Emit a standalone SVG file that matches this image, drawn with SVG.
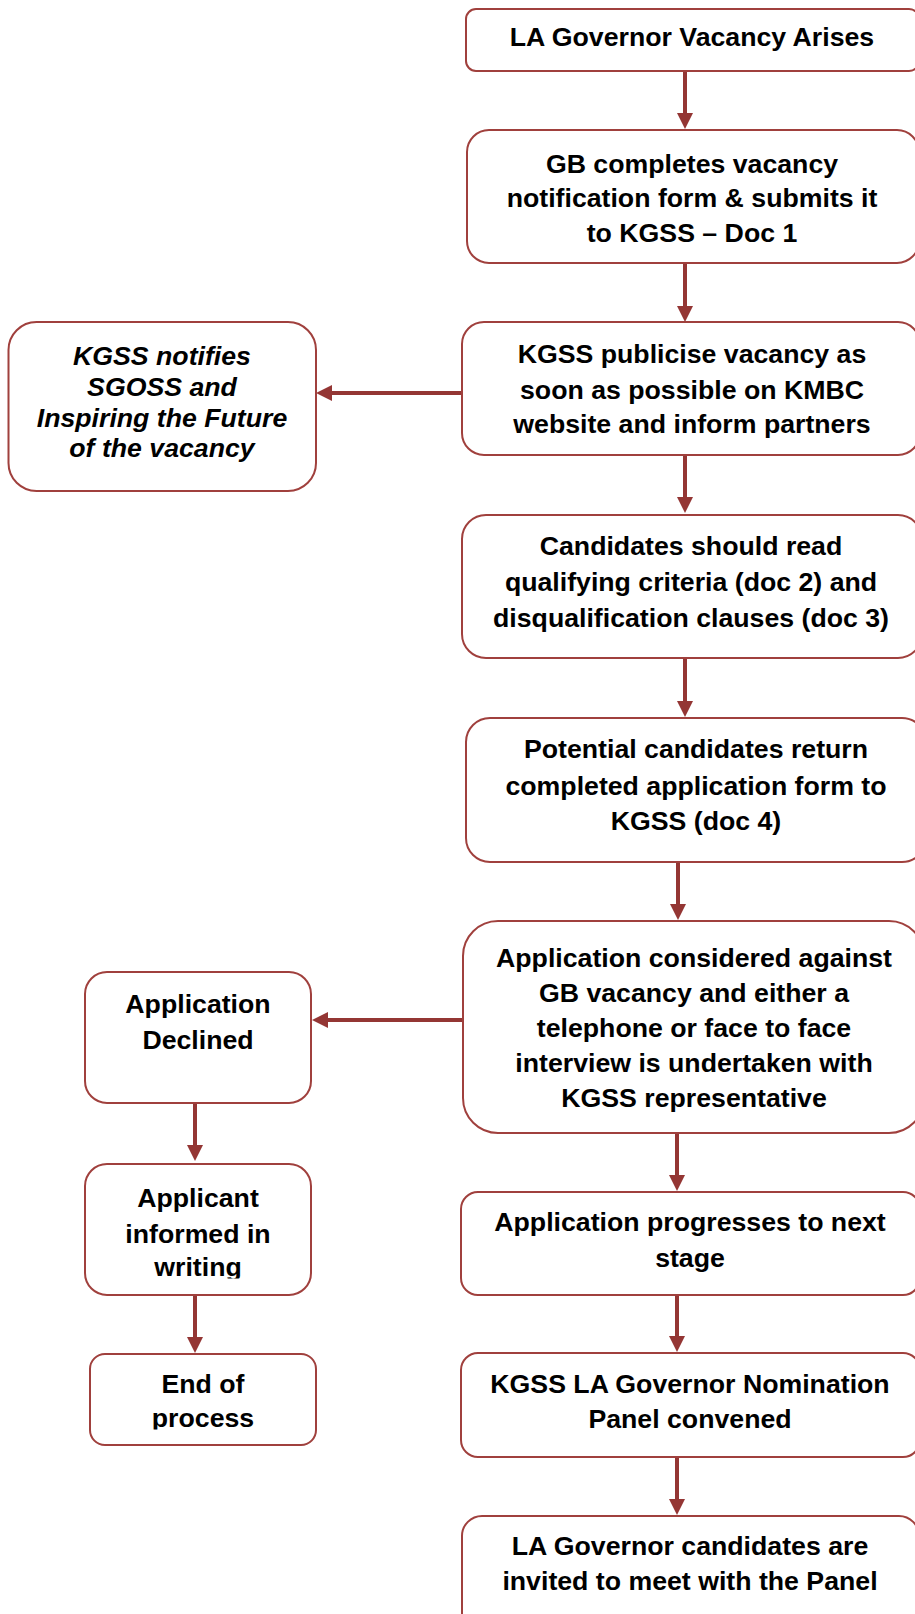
<svg xmlns="http://www.w3.org/2000/svg" width="915" height="1614" viewBox="0 0 915 1614">
<style>
.box{fill:#ffffff;stroke:#a0403d;stroke-width:2}
.t{font-family:"Liberation Sans",Arial,sans-serif;font-weight:bold;font-size:26.7px;fill:#000;text-anchor:middle}
.it{font-style:italic}
.c{stroke:#943634;stroke-width:4;fill:none}
</style>
<defs>
<marker id="ah" markerUnits="userSpaceOnUse" markerWidth="16" markerHeight="16" refX="2" refY="8" orient="auto" viewBox="0 0 16 16">
<path d="M0,0 L16,8 L0,16 z" fill="#943634"/>
</marker>
<clipPath id="clipW"><rect x="85" y="1164" width="226" height="114.5"/></clipPath>
<clipPath id="clipP"><rect x="90" y="1354" width="226" height="75.5"/></clipPath>
</defs>
<rect width="915" height="1614" fill="#ffffff"/>
<g id="connectors">
<path class="c" d="M685,71 V115" marker-end="url(#ah)"/>
<path class="c" d="M685,263 V308" marker-end="url(#ah)"/>
<path class="c" d="M685,455 V499" marker-end="url(#ah)"/>
<path class="c" d="M685,658 V703" marker-end="url(#ah)"/>
<path class="c" d="M678,862 V906" marker-end="url(#ah)"/>
<path class="c" d="M677,1133 V1177" marker-end="url(#ah)"/>
<path class="c" d="M677,1295 V1338" marker-end="url(#ah)"/>
<path class="c" d="M677,1457 V1501" marker-end="url(#ah)"/>
<path class="c" d="M465,393 H330" marker-end="url(#ah)"/>
<path class="c" d="M462,1020 H326" marker-end="url(#ah)"/>
<path class="c" d="M195,1103 V1147" marker-end="url(#ah)"/>
<path class="c" d="M195,1295 V1339" marker-end="url(#ah)"/>
</g>
<g id="n1">
<rect class="box" x="466" y="9" width="453" height="62" rx="10"/>
<text class="t" x="692" y="46">LA Governor Vacancy Arises</text>
</g>
<g id="n2">
<rect class="box" x="467" y="130" width="452" height="133" rx="22"/>
<text class="t" x="692" y="173">GB completes vacancy</text>
<text class="t" x="692" y="207">notification form &amp; submits it</text>
<text class="t" x="692" y="242">to KGSS – Doc 1</text>
</g>
<g id="n3">
<rect class="box" x="462" y="322" width="458" height="133" rx="22"/>
<text class="t" x="692" y="363">KGSS publicise vacancy as</text>
<text class="t" x="692" y="399">soon as possible on KMBC</text>
<text class="t" x="692" y="433">website and inform partners</text>
</g>
<g id="n3b">
<rect class="box" x="8.5" y="322" width="307.5" height="169" rx="28"/>
<text class="t it" x="162" y="365">KGSS notifies</text>
<text class="t it" x="162" y="396">SGOSS and</text>
<text class="t it" x="162" y="427">Inspiring the Future</text>
<text class="t it" x="162" y="457">of the vacancy</text>
</g>
<g id="n4">
<rect class="box" x="462" y="515" width="460" height="143" rx="24"/>
<text class="t" x="691" y="555">Candidates should read</text>
<text class="t" x="691" y="591">qualifying criteria (doc 2) and</text>
<text class="t" x="691" y="627">disqualification clauses (doc 3)</text>
</g>
<g id="n5">
<rect class="box" x="466" y="718" width="460" height="144" rx="24"/>
<text class="t" x="696" y="758">Potential candidates return</text>
<text class="t" x="696" y="795">completed application form to</text>
<text class="t" x="696" y="830">KGSS (doc 4)</text>
</g>
<g id="n6">
<rect class="box" x="463" y="921" width="461" height="212" rx="35"/>
<text class="t" x="694" y="967">Application considered against</text>
<text class="t" x="694" y="1002">GB vacancy and either a</text>
<text class="t" x="694" y="1037">telephone or face to face</text>
<text class="t" x="694" y="1072">interview is undertaken with</text>
<text class="t" x="694" y="1107">KGSS representative</text>
</g>
<g id="n6b">
<rect class="box" x="85" y="972" width="226" height="131" rx="22"/>
<text class="t" x="198" y="1013">Application</text>
<text class="t" x="198" y="1049">Declined</text>
</g>
<g id="n6c">
<rect class="box" x="85" y="1164" width="226" height="131" rx="22"/>
<g clip-path="url(#clipW)">
<text class="t" x="198" y="1207">Applicant</text>
<text class="t" x="198" y="1243">informed in</text>
<text class="t" x="198" y="1276">writing</text>
</g>
</g>
<g id="n6d">
<rect class="box" x="90" y="1354" width="226" height="91" rx="15"/>
<g clip-path="url(#clipP)">
<text class="t" x="203" y="1393">End of</text>
<text class="t" x="203" y="1427">process</text>
</g>
</g>
<g id="n7">
<rect class="box" x="461" y="1192" width="459" height="103" rx="17"/>
<text class="t" x="690" y="1231">Application progresses to next</text>
<text class="t" x="690" y="1267">stage</text>
</g>
<g id="n8">
<rect class="box" x="461" y="1353" width="459" height="104" rx="17"/>
<text class="t" x="690" y="1393">KGSS LA Governor Nomination</text>
<text class="t" x="690" y="1428">Panel convened</text>
</g>
<g id="n9">
<rect class="box" x="462" y="1516" width="457" height="120" rx="20"/>
<text class="t" x="690" y="1555">LA Governor candidates are</text>
<text class="t" x="690" y="1590">invited to meet with the Panel</text>
</g>
</svg>
